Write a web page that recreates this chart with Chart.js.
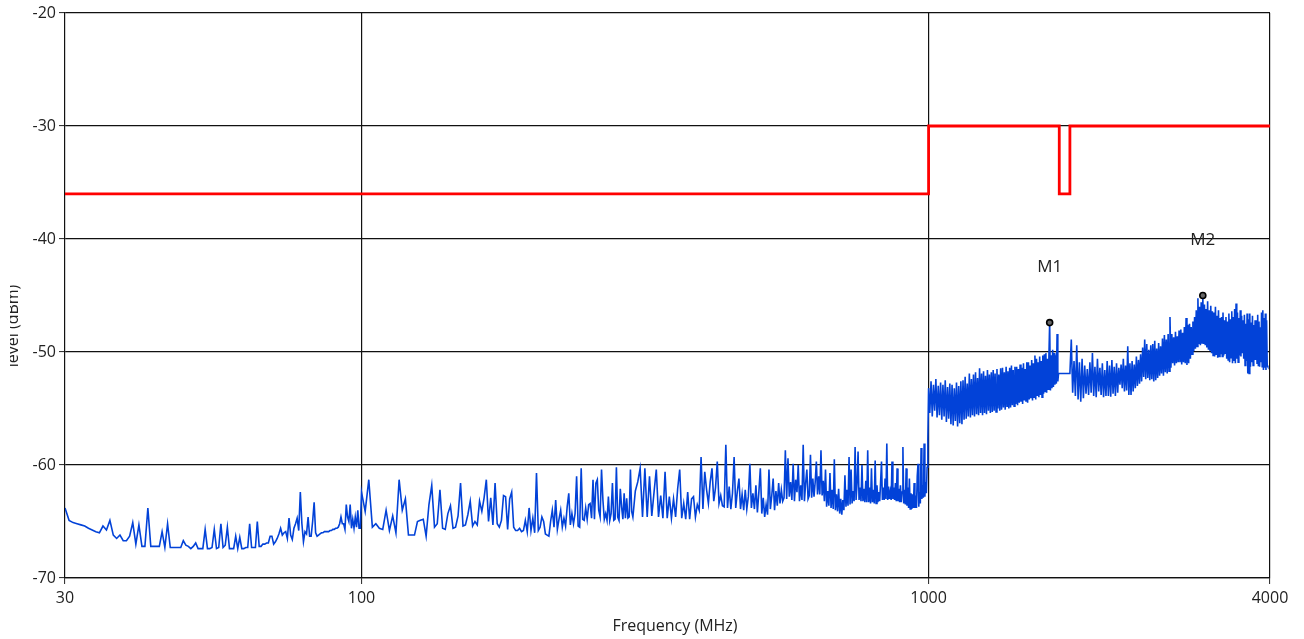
<!DOCTYPE html>
<html>
<head>
<meta charset="utf-8">
<title>Emission scan</title>
<script src="https://cdn.jsdelivr.net/npm/chart.js@4.4.1/dist/chart.umd.min.js"></script>
<style>
  html, body { margin: 0; padding: 0; background: #ffffff; }
  #wrap { width: 1304px; height: 639px; position: relative; }
</style>
</head>
<body>
<div id="wrap"><canvas id="scan" width="1304" height="639"></canvas></div>
<script>
// Axis ticks
const xTickValues = [30, 100, 1000, 4000];
const yTickValues = [-70, -60, -50, -40, -30, -20];

// Limit line (MHz / dBm)
const limitFreqs  = [30, 1000, 1000, 1700, 1700, 1775, 1775, 4000];
const limitLevels = [-36, -36, -30, -30, -36, -36, -30, -30];

// Sweep segments: start frequency and step (MHz) for each level array below
const segmentStartMHz = [30, 100, 301, 1000, 1775];
const segmentStepMHz  = [0.5, 1.5, 3, 5, 10];

// 30 - 99.5 MHz, 0.5 MHz steps
const level30to100 = [
  -63.8,-64.9,-65.1,-65.2,-65.3,-65.4,-65.6,-65.75,-65.9,-66.0,
  -65.4,-65.75,-64.9,-66.2,-66.5,-66.2,-66.7,-66.7,-66.3,-65.1,
  -67.0,-65.3,-67.2,-67.2,-63.8,-67.2,-67.2,-67.2,-67.2,-65.9,
  -67.3,-65.2,-67.3,-67.3,-67.3,-67.3,-67.3,-66.7,-67.1,-67.2,
  -67.4,-67.2,-66.9,-67.4,-67.4,-67.4,-65.7,-67.4,-67.4,-67.3,
  -65.7,-67.4,-67.3,-65.2,-67.3,-67.1,-65.5,-67.4,-67.4,-67.4,
  -66.3,-67.4,-66.4,-67.4,-67.4,-67.3,-67.3,-65.2,-67.3,-67.3,
  -67.3,-65.0,-67.2,-67.2,-67.0,-67.0,-66.9,-66.9,-66.3,-66.3,
  -67.0,-66.8,-66.5,-66.1,-65.6,-66.2,-66.0,-65.9,-66.5,-64.7,
  -66.2,-66.6,-65.6,-65.2,-64.7,-65.8,-62.4,-65.2,-66.8,-65.9,
  -66.1,-64.6,-66.3,-66.3,-65.0,-63.3,-66.0,-66.3,-66.2,-66.1,
  -66.0,-66.0,-65.9,-65.9,-65.9,-65.9,-65.8,-65.8,-65.7,-65.7,
  -65.6,-65.6,-65.5,-65.2,-64.6,-65.2,-65.2,-65.7,-63.5,-64.6,
  -65.0,-63.5,-65.6,-64.8,-65.6,-64.6,-65.5,-64.0,-65.6,-65.6
];

// 100 - 299.5 MHz, 1.5 MHz steps
const level100to300 = [
  -62.4,-64.1,-61.3,-65.5,-65.2,-65.6,-65.7,-64.0,-65.8,-64.5,
  -66.0,-61.3,-64.0,-63.0,-66.2,-66.2,-66.2,-65.0,-64.9,-64.8,
  -66.3,-63.5,-61.8,-65.5,-65.2,-62.2,-65.6,-65.7,-64.3,-63.6,
  -65.6,-65.5,-64.5,-61.6,-65.4,-65.3,-64.4,-63.2,-65.4,-65.0,
  -65.3,-63.2,-64.1,-62.9,-61.3,-65.0,-62.9,-65.3,-61.6,-65.2,
  -65.5,-64.9,-62.7,-62.8,-65.7,-63.0,-62.4,-65.5,-65.8,-65.8,
  -65.6,-65.9,-65.8,-64.9,-65.9,-63.8,-65.8,-64.7,-66.0,-60.7,
  -65.8,-65.5,-64.6,-65.0,-66.1,-66.2,-66.3,-65.0,-64.0,-65.5,
  -63.1,-65.7,-64.8,-64.0,-65.5,-64.7,-65.4,-63.7,-62.5,-65.3,
  -64.3,-65.2,-64.3,-61.0,-65.4,-65.5,-60.3,-64.8,-64.9,-63.8,
  -64.8,-63.5,-63.4,-64.7,-61.3,-64.8,-61.6,-61.3,-64.0,-64.6,
  -60.4,-63.1,-64.8,-64.3,-64.9,-62.8,-64.9,-64.3,-61.6,-64.9,
  -64.8,-60.2,-64.6,-64.9,-62.1,-63.7,-64.8,-62.5,-64.7,-62.95,
  -64.7,-64.6,-60.4,-64.1
];

// 301 - 997 MHz, 3 MHz steps
const level300to1000 = [
  -64.6,-62.3,-61.5,-60.3,-64.6,
  -60.3,-64.6,-61.0,-64.5,-62.4,-60.4,-64.6,-62.7,-64.7,-60.6,
  -64.7,-62.8,-64.7,-63.0,-64.6,-62.1,-60.4,-64.7,-63.4,-64.8,
  -62.4,-64.8,-63.0,-62.8,-64.6,-63.5,-64.0,-59.3,-63.9,-60.6,
  -62.2,-63.4,-61.5,-60.3,-63.2,-62.0,-59.7,-63.4,-62.7,-63.6,
  -63.7,-58.2,-63.8,-61.9,-63.9,-62.5,-59.3,-63.8,-62.3,-61.2,
  -63.9,-62.6,-64.0,-62.2,-63.9,-62.8,-59.9,-63.8,-62.5,-63.9,
  -61.8,-64.2,-62.4,-60.3,-64.3,-62.9,-64.6,-63.5,-64.4,-60.4,
  -63.9,-62.7,-61.2,-64.0,-62.3,-63.6,-61.6,-63.4,-62.2,-63.2,
  -62.9,-58.7,-63.0,-59.4,-62.8,-61.5,-63.1,-59.9,-63.2,-61.3,
  -62.4,-60.0,-63.2,-61.8,-63.1,-58.2,-63.2,-61.6,-60.4,-63.0,
  -62.7,-59.1,-62.9,-61.2,-62.8,-61.5,-59.7,-62.6,-61.0,-62.6,
  -58.7,-62.7,-61.4,-63.2,-60.4,-63.7,-62.3,-63.6,-60.7,-63.8,
  -62.2,-63.9,-59.5,-64.0,-62.6,-64.1,-62.1,-64.3,-63.0,-64.4,
  -63.1,-64.0,-60.9,-63.7,-62.2,-63.6,-59.3,-63.5,-60.4,-63.4,
  -62.3,-63.2,-58.4,-63.1,-61.6,-58.8,-63.1,-62.0,-63.2,-60.0,
  -63.2,-62.1,-63.3,-61.4,-63.3,-58.7,-63.3,-62.0,-63.4,-60.3,
  -63.3,-62.2,-63.4,-59.6,-63.4,-61.8,-63.3,-62.4,-63.2,-61.5,
  -59.7,-63.1,-62.0,-63.1,-61.2,-63.0,-58.1,-63.1,-61.9,-63.0,
  -62.4,-63.1,-59.7,-63.0,-62.0,-63.1,-61.6,-63.2,-60.3,-63.2,
  -62.1,-63.3,-61.8,-63.3,-62.4,-58.4,-63.4,-62.2,-63.5,-60.3,
  -63.6,-62.0,-63.8,-61.2,-63.9,-62.5,-63.9,-62.6,-63.8,-61.6,
  -63.8,-62.7,-63.8,-61.0,-59.9,-63.7,-62.4,-63.4,-58.5,-63.0,
  -61.8,-62.9,-58.1,-62.8,-61.5,-62.5,-60.2,-57.8
];

// 1000 - 1695 MHz, 5 MHz steps
const level1000to1700 = [
  -53.2,-55.4,-52.6,-55.7,-52.9,-55.2,-52.4,-55.8,-53.0,-55.6,
  -52.7,-56.0,-52.9,-55.7,-52.5,-56.2,-53.1,-55.9,-52.8,-56.4,
  -52.9,-56.5,-53.2,-56.1,-52.7,-56.6,-53.0,-56.3,-52.6,-56.4,
  -52.5,-56.0,-52.2,-55.9,-52.8,-55.7,-51.9,-55.8,-52.4,-55.6,
  -52.0,-55.7,-51.8,-55.5,-52.3,-55.6,-51.45,-55.4,-51.9,-55.6,
  -51.7,-55.4,-52.1,-55.5,-51.6,-55.2,-52.0,-55.4,-51.8,-55.3,
  -51.6,-55.2,-51.9,-55.3,-51.5,-55.0,-52.0,-55.2,-51.45,-55.1,
  -51.4,-54.9,-51.8,-55.1,-51.3,-54.8,-51.7,-55.0,-51.4,-54.9,
  -51.2,-54.7,-51.6,-54.8,-51.3,-54.6,-51.3,-54.7,-51.5,-54.5,
  -51.1,-54.4,-51.4,-54.6,-51.0,-54.3,-51.5,-54.4,-50.9,-54.5,
  -50.9,-54.2,-51.2,-54.1,-50.7,-54.3,-51.0,-54.0,-50.3,-54.2,
  -50.6,-53.9,-50.9,-54.0,-50.4,-53.8,-50.8,-54.0,-50.3,-53.7,
  -50.2,-53.5,-50.1,-53.6,-50.6,-53.3,-50.4,-47.4,-53.4,-50.3,
  -53.2,-49.8,-53.1,-50.1,-52.9,-50.3,-52.8,-48.4,-52.6,-51.9
];

// 1775 - 3965 MHz, 10 MHz steps
const level1775to4000 = [
  -51.9,-48.9,-53.6,-50.8,-53.9,-49.4,-54.2,-50.9,-54.4,-50.6,
  -54.1,-51.2,-53.7,-51.5,-53.8,-50.9,-53.6,-50.1,-53.9,-51.3,
  -54.0,-50.6,-53.5,-51.4,-53.8,-51.0,-54.0,-51.6,-53.9,-50.8,
  -53.9,-51.2,-53.95,-50.7,-53.7,-51.3,-53.9,-51.0,-53.6,-51.4,
  -52.9,-51.1,-53.2,-50.6,-53.5,-51.2,-53.4,-49.5,-53.8,-51.0,
  -53.8,-50.8,-53.5,-51.1,-53.2,-50.4,-53.0,-50.7,-52.8,-50.2,
  -52.6,-49.6,-52.2,-48.9,-52.4,-49.3,-52.3,-49.8,-52.5,-49.4,
  -52.4,-49.3,-52.6,-49.0,-52.5,-49.7,-52.3,-49.2,-52.1,-49.5,
  -51.9,-48.8,-52.1,-48.5,-51.8,-48.9,-51.9,-48.4,-51.7,-46.9,
  -51.4,-48.4,-51.0,-48.7,-51.2,-48.2,-51.0,-48.6,-50.9,-48.1,
  -50.9,-48.0,-51.1,-48.3,-50.9,-47.8,-51.0,-47.0,-51.15,-47.6,
  -51.0,-47.5,-50.6,-47.8,-50.2,-47.3,-49.9,-46.9,-49.7,-46.3,
  -49.5,-45.25,-49.3,-46.0,-49.4,-45.6,-49.2,-45.0,-49.3,-45.8,
  -49.4,-46.2,-49.6,-45.5,-49.8,-46.3,-49.9,-45.9,-50.1,-46.4,
  -50.3,-46.5,-50.4,-46.0,-50.2,-46.8,-50.5,-46.3,-50.4,-47.0,
  -50.2,-46.9,-50.4,-46.5,-50.3,-47.2,-50.1,-46.9,-50.6,-47.3,
  -50.7,-46.6,-50.9,-47.1,-50.5,-46.4,-51.0,-46.9,-50.8,-46.2,
  -51.0,-45.7,-50.6,-46.5,-50.9,-47.0,-50.3,-46.3,-50.4,-46.8,
  -50.1,-47.2,-50.6,-46.7,-51.2,-47.5,-50.8,-46.6,-51.9,-47.1,
  -51.9,-46.6,-51.3,-47.4,-50.9,-46.8,-51.2,-47.6,-50.7,-47.2,
  -50.7,-47.2,-51.0,-46.7,-51.2,-47.3,-51.3,-47.8,-50.9,-46.5,
  -51.3,-46.3,-51.6,-47.0,-51.4,-46.6,-51.6,-47.2,-51.2,-51.3
];

// Peak markers
const markerNames  = ['M1', 'M2'];
const markerFreqs  = [1635, 3045];
const markerLevels = [-47.4, -45.0];

const segmentLevels = [level30to100, level100to300, level300to1000, level1000to1700, level1775to4000];

// Turn each sweep segment into {x: MHz, y: dBm} points
const tracePoints = [];
segmentLevels.forEach((levels, s) => {
  levels.forEach((lv, i) => {
    const f = +(segmentStartMHz[s] + i * segmentStepMHz[s]).toFixed(2);
    tracePoints.push({ x: f, y: lv });
  });
});

const limitPoints = limitFreqs.map((f, i) => ({ x: f, y: limitLevels[i] }));
const markerPoints = markerFreqs.map((f, i) => ({ x: f, y: markerLevels[i] }));

const FONT = "'Open Sans', 'Noto Sans', sans-serif";
const INK = '#222222';
const GRID = '#111111';

// Axis titles and marker captions
const annotations = {
  id: 'annotations',
  afterDatasetsDraw(chart) {
    const { ctx, scales: { x, y } } = chart;
    ctx.save();
    ctx.fillStyle = INK;
    ctx.font = `17px ${FONT}`;
    ctx.textAlign = 'center';
    ctx.textBaseline = 'middle';
    markerNames.forEach((name, i) => {
      const px = x.getPixelForValue(markerFreqs[i]);
      const py = y.getPixelForValue(markerLevels[i]);
      ctx.fillText(name, px, py - 55);
    });
    ctx.restore();
  },
  afterDraw(chart) {
    const { ctx } = chart;
    ctx.save();
    ctx.fillStyle = INK;
    ctx.font = `16px ${FONT}`;
    ctx.textAlign = 'center';
    ctx.textBaseline = 'middle';
    ctx.fillText('Frequency (MHz)', 675, 626);
    ctx.restore();

    ctx.save();
    ctx.beginPath();
    ctx.rect(10, 0, 40, 639);
    ctx.clip();
    ctx.translate(18, 326);
    ctx.rotate(-Math.PI / 2);
    ctx.fillStyle = INK;
    ctx.font = `16px ${FONT}`;
    ctx.textAlign = 'center';
    ctx.textBaseline = 'alphabetic';
    ctx.fillText('level (dBm)', 0, 0);
    ctx.restore();
  }
};

new Chart(document.getElementById('scan'), {
  type: 'scatter',
  data: {
    datasets: [
      {
        label: 'Trace',
        data: tracePoints,
        showLine: true,
        borderColor: 'rgb(2,66,216)',
        borderWidth: 1.6,
        pointRadius: 0,
        tension: 0,
        order: 3
      },
      {
        label: 'Limit',
        data: limitPoints,
        showLine: true,
        borderColor: '#ff0000',
        borderWidth: 2.8,
        pointRadius: 0,
        tension: 0,
        order: 2
      },
      {
        label: 'Markers',
        data: markerPoints,
        showLine: false,
        pointRadius: 3,
        pointBorderWidth: 1.6,
        pointBorderColor: '#000000',
        pointBackgroundColor: '#666666',
        order: 1
      }
    ]
  },
  options: {
    responsive: false,
    animation: false,
    layout: { padding: { top: 13, right: 34, left: 0, bottom: 0 } },
    plugins: {
      legend: { display: false },
      tooltip: { enabled: false }
    },
    scales: {
      x: {
        type: 'logarithmic',
        min: 30,
        max: 4000,
        afterBuildTicks(scale) {
          scale.ticks = xTickValues.map(v => ({ value: v }));
        },
        afterFit(scale) { scale.height = 61; },
        ticks: {
          autoSkip: false,
          maxRotation: 0,
          padding: 5,
          color: INK,
          font: { family: FONT, size: 16 },
          callback: v => String(v)
        },
        grid: {
          color: ctx => (ctx.tick && (ctx.tick.value === 100 || ctx.tick.value === 1000 || ctx.tick.value === 4000)) ? GRID : 'rgba(0,0,0,0)',
          lineWidth: 1.2,
          drawTicks: true,
          tickLength: 6,
          tickColor: INK,
          tickWidth: 1
        },
        border: { display: true, color: GRID, width: 1.2 }
      },
      y: {
        type: 'linear',
        min: -70,
        max: -20,
        afterBuildTicks(scale) {
          scale.ticks = yTickValues.map(v => ({ value: v }));
        },
        afterFit(scale) { scale.width = 65; },
        ticks: {
          padding: 3,
          color: INK,
          font: { family: FONT, size: 16 },
          callback: v => String(v)
        },
        grid: {
          color: GRID,
          lineWidth: 1.2,
          drawTicks: true,
          tickLength: 6,
          tickColor: INK,
          tickWidth: 1
        },
        border: { display: true, color: GRID, width: 1.2 }
      }
    }
  },
  plugins: [annotations]
});
</script>
</body>
</html>
